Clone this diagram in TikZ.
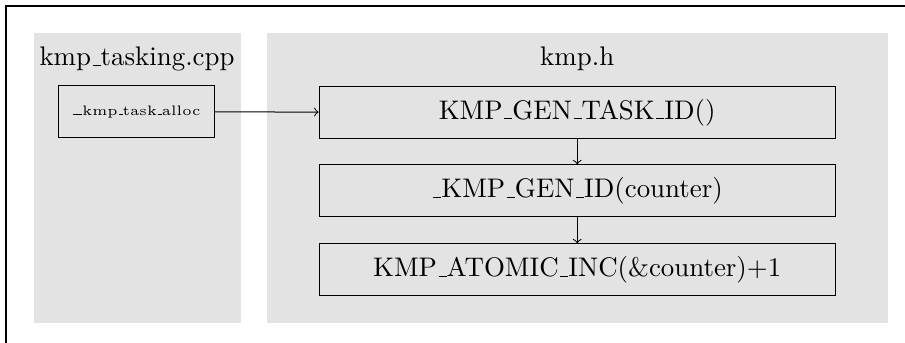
\documentclass[tikz,border=0pt]{standalone}
\usepackage{graphicx}
\usepackage{tikz}
\definecolor{panelgray}{gray}{0.89}
% short TeX-style underscore
\newcommand{\us}{\leavevmode\kern.06em\vbox{\hrule width.3em}}
\newcommand{\tinyname}[1]{\scalebox{1.1}{\tiny #1}}

\begin{document}
\begin{tikzpicture}[
  font=\fontsize{10.75}{13}\selectfont,
  panel/.style={fill=panelgray,draw=none},
  callbox/.style={draw,rectangle,minimum width=7.255cm,minimum height=0.731cm,inner sep=0pt},
  srcbox/.style={draw,rectangle,minimum width=2.18cm,minimum height=0.731cm,inner sep=0pt}
]
\useasboundingbox (0,0) rectangle (12.72,4.82);
\draw[line width=0.8pt] (0.084,4.738) rectangle (13.5,-1);
% file panels
\fill[panel] (0.478,0.281) rectangle (3.389,4.359);
\fill[panel] (3.754,0.281) rectangle (12.486,4.359);
\node[anchor=base] (cpp) at (1.926,3.895) {kmp\us tasking.cpp};
\node[anchor=base] (hdr) at (8.113,3.895) {kmp.h};
% calls
\node[srcbox] (alloc) at (1.919,3.248) {\tinyname{\us\us kmp\us task\us alloc}};
\node[callbox] (taskid) at (8.113,3.241) {KMP\us GEN\us TASK\us ID()};
\node[callbox] (genid) at (8.113,2.137) {\us KMP\us GEN\us ID(counter)};
\node[callbox] (inc) at (8.113,1.026) {KMP\us ATOMIC\us INC(\&counter)+1};
\draw[->] (alloc) -- (taskid);
\draw[->] (taskid) -- (genid);
\draw[->] (genid) -- (inc);
%\draw[->] (inc) -- (taskid);
\end{tikzpicture}
\end{document}
